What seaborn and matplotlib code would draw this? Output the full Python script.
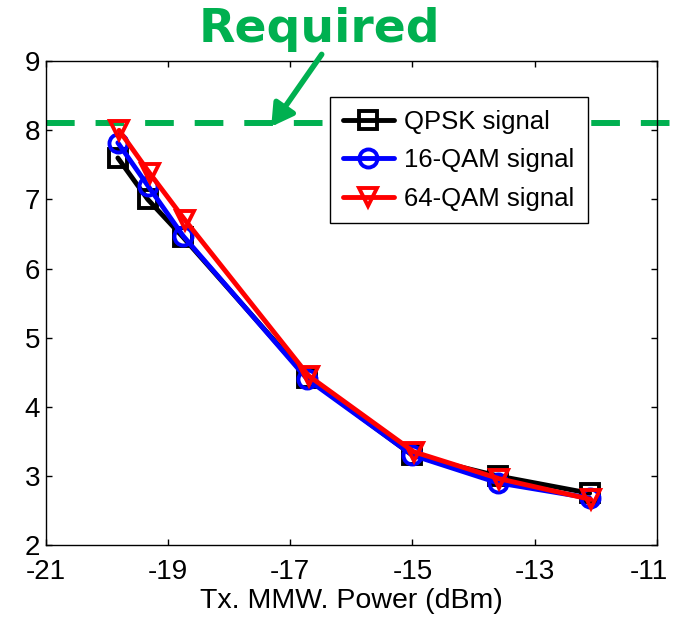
import numpy as np
import pandas as pd
import matplotlib
matplotlib.use("Agg")
import matplotlib.pyplot as plt
import matplotlib.transforms as mtransforms
import seaborn as sns

# data
power_qpsk = [-19.82, -19.33, -18.75, -16.72, -15.0, -13.6, -12.1]
evm_qpsk = [7.6, 7.0, 6.45, 4.42, 3.3, 3.0, 2.75]

power_16qam = [-19.82, -19.33, -18.75, -16.72, -15.0, -13.6, -12.1]
evm_16qam = [7.82, 7.2, 6.47, 4.4, 3.3, 2.9, 2.68]

power_64qam = [-19.8, -19.3, -18.72, -16.7, -14.98, -13.58, -12.08]
evm_64qam = [8.0, 7.38, 6.7, 4.45, 3.35, 2.96, 2.66]

series_names = ["QPSK signal", "16-QAM signal", "64-QAM signal"]
required_level = 8.1

sns.set_style("white")
plt.rcParams["font.family"] = ["Liberation Sans", "DejaVu Sans"]
plt.rcParams["axes.unicode_minus"] = False
plt.rcParams["text.color"] = "black"
plt.rcParams["axes.labelcolor"] = "black"
plt.rcParams["xtick.color"] = "black"
plt.rcParams["ytick.color"] = "black"

df = pd.concat(
    [
        pd.DataFrame({"power": power_qpsk, "evm": evm_qpsk, "signal": series_names[0]}),
        pd.DataFrame({"power": power_16qam, "evm": evm_16qam, "signal": series_names[1]}),
        pd.DataFrame({"power": power_64qam, "evm": evm_64qam, "signal": series_names[2]}),
    ],
    ignore_index=True,
)

fig = plt.figure(figsize=(6.73, 6.18), dpi=100)
ax = fig.add_axes([0.068, 0.118, 0.908, 0.783])

styles = {
    "QPSK signal": ("black", "s"),
    "16-QAM signal": ("blue", "o"),
    "64-QAM signal": ("red", "v"),
}
for name in series_names:
    color, mk = styles[name]
    sns.lineplot(
        data=df[df["signal"] == name],
        x="power",
        y="evm",
        ax=ax,
        color=color,
        marker=mk,
        markersize=13,
        markerfacecolor="none",
        markeredgecolor=color,
        markeredgewidth=2.8,
        linewidth=3.5,
        label=name,
        sort=False,
    )

# required threshold line (runs past the right edge of the axes)
ax.plot([-21, -10.75], [required_level, required_level], color="#00B050",
        linestyle=(0, (4.8, 3.5)), linewidth=4.3, clip_on=False, zorder=1)

ax.set_xlim(-21, -11)
ax.set_ylim(2, 9)
ax.set_xticks([-21, -19, -17, -15, -13, -11])
ax.set_yticks([2, 3, 4, 5, 6, 7, 8, 9])
ax.tick_params(direction="in", length=4, width=1, labelsize=20, top=True, right=True,
               bottom=True, left=True)
ax.tick_params(axis="x", pad=10)
ax.tick_params(axis="y", pad=4)
for s in ax.spines.values():
    s.set_color("black")
    s.set_linewidth(1)
ax.set_xlabel("Tx. MMW. Power (dBm)", fontsize=20.5, labelpad=2)
ax.set_ylabel("")

# nudge the "-11" label left a little so it stays inside the picture
shift = mtransforms.ScaledTranslation(-6 / 72, 0, fig.dpi_scale_trans)
last = ax.xaxis.get_major_ticks()[-1].label1
last.set_transform(last.get_transform() + shift)

leg = ax.legend(loc="upper left", bbox_to_anchor=(0.465, 0.925), fontsize=18.5,
                frameon=True, fancybox=False, edgecolor="black", framealpha=1,
                handlelength=2.0, borderpad=0.5, labelspacing=0.55, handletextpad=0.4,
                borderaxespad=0)
leg.get_frame().set_linewidth(1)

fig.text(0.475, 0.952, "Required", color="#00B050", fontsize=34, fontweight="bold",
         ha="center", va="center", family="DejaVu Sans")
ax.annotate("", xy=(0.403, 0.795), xytext=(0.478, 0.912), xycoords="figure fraction",
            textcoords="figure fraction",
            arrowprops=dict(arrowstyle="-|>,head_length=1.3,head_width=0.75",
                            color="#00B050", lw=4, shrinkA=0, shrinkB=0),
            annotation_clip=False)

fig.savefig("out.png", dpi=100)
